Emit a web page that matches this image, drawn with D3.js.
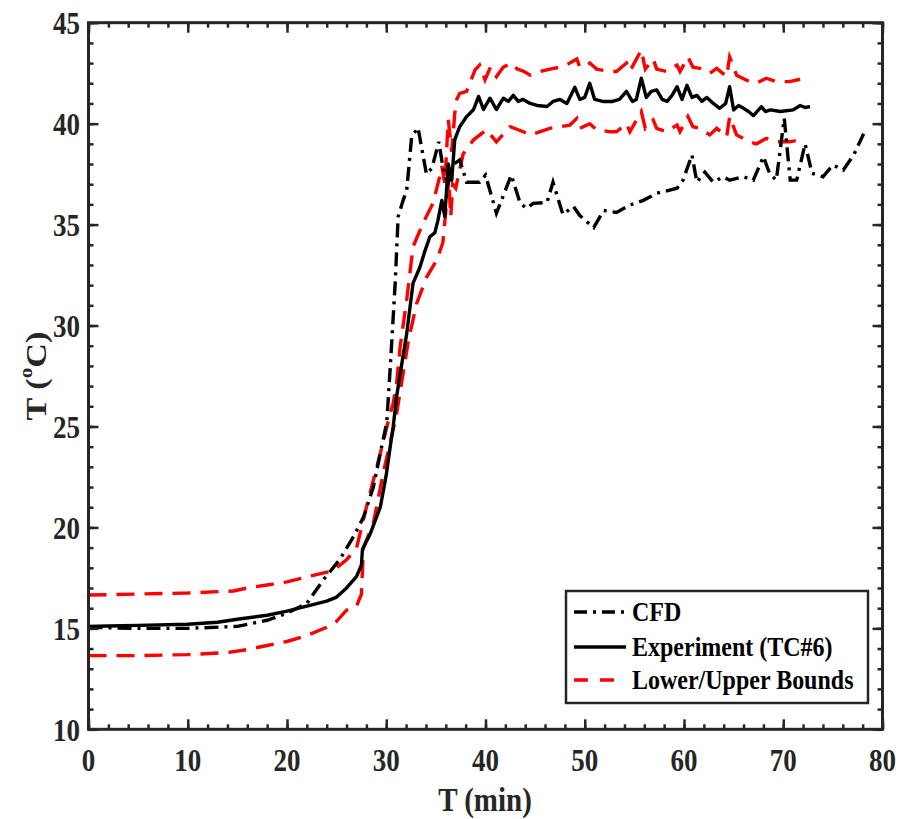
<!DOCTYPE html>
<html><head><meta charset="utf-8">
<script src="https://cdn.jsdelivr.net/npm/d3@7"></script>
<style>
body{margin:0;background:#fff;}
text{font-family:"Liberation Serif","Times New Roman",serif;font-weight:bold;fill:#262626;}
</style></head>
<body><svg id="chart" width="900" height="819"></svg>
<script>
// ---------- data ----------
const xTicks = [0,10,20,30,40,50,60,70,80];
const yTicks = [10,15,20,25,30,35,40,45];
const legendLabels = ["CFD","Experiment (TC#6)","Lower/Upper Bounds"];

const expT = [0,2,5,10,13,15,18,20,22,24,25,26,27,27.5,27.6,27.8,28.4,29.4,30.0,30.4,30.7,31.05,31.4,32.06,32.7,33.4,33.9,34.4,34.9,35.2,35.4,35.6,35.9,36.25,36.6,36.9,37.4,38.1,38.8,39.3,39.8,40.45,41.1,41.8,42.3,42.8,43.3,43.8,44.5,45.2,46.2,46.8,47.5,48.2,49.0,49.5,50.0,50.5,51.0,51.8,52.8,53.5,54.2,54.8,55.2,55.7,56.2,56.7,57.25,57.8,58.3,58.8,59.3,59.8,60.3,60.8,61.3,61.8,62.3,62.95,63.6,64.2,64.6,65.0,65.5,66.0,66.5,67.0,67.8,68.2,68.7,69.7,71.0,71.7,72.2,72.7];
const expV = [15.1,15.12,15.15,15.2,15.3,15.45,15.65,15.85,16.1,16.35,16.55,17.0,17.56,18.14,18.9,19.1,19.7,21.0,22.6,24.0,25.0,26.5,27.6,29.6,32.1,32.9,33.7,34.4,34.6,35.2,35.7,36.2,35.4,38.0,37.2,39.2,39.85,40.35,40.7,41.35,40.7,41.26,40.7,41.26,41.1,41.4,41.1,41.2,41.0,40.9,40.85,41.1,41.2,41.0,41.8,41.2,41.3,42.0,41.2,41.1,41.1,41.2,41.6,41.1,41.2,42.25,41.3,41.6,41.67,41.2,41.1,41.4,41.83,41.2,41.9,41.3,41.4,41.1,41.3,41.0,40.76,41.0,41.83,40.68,40.9,40.76,40.6,40.4,40.84,40.6,40.68,40.6,40.68,40.9,40.8,40.84];

const upT = [0,5,10,14.6,16,18,20,22,24.6,25,26,27,28,29.4,30.4,30.7,31.05,31.4,32.06,32.7,33.7,34.7,35.4,35.6,35.9,36.25,36.6,36.9,37.1,37.4,38.1,38.95,39.4,39.95,40.5,41.1,41.8,42.6,43.2,43.8,44.5,45.5,46.5,47.5,48.5,49.2,49.5,50.5,51.2,52.5,53.2,54.2,54.55,55.7,56.1,56.9,57.25,58.25,59.3,59.6,60.4,60.9,61.6,62.6,63.3,64.3,64.6,65.3,66.6,67.3,68.3,69.3,70.65,71.7];
const upV = [16.65,16.7,16.75,16.85,17.0,17.15,17.3,17.55,17.85,18.0,18.4,18.97,21.0,23.67,25.65,26.15,27.14,28.95,31.27,33.9,35.06,36.05,37.4,37.9,37.0,40.2,38.6,40.5,41.2,41.5,41.6,42.66,42.9,42.17,42.8,42.33,42.8,43.0,42.7,42.6,42.4,42.58,42.7,42.8,43.0,43.2,42.8,43.0,42.7,42.58,42.58,43.0,42.6,43.65,42.7,43.2,42.7,42.58,42.9,42.58,43.3,42.8,42.74,42.5,42.74,42.33,43.3,42.4,42.08,42.0,42.25,42.08,42.08,42.2];

const loT = [0,5,10,14,16,18,20,22,24,25,26,27,27.5,27.7,28.7,29.7,31.0,32.25,33.07,34.07,35.1,35.7,36.3,36.5,36.7,37.0,37.75,38.8,40.1,41.1,42.5,43.8,44.5,45.5,46.5,47.5,48.5,49.2,49.5,50.5,51.2,52.5,53.2,54.2,54.55,55.7,56.1,56.9,57.25,58.25,59.3,59.6,60.4,60.9,61.6,62.6,63.3,64.3,64.6,65.3,66.6,67.3,68.3,69.3,70.65,71.7];
const loV = [13.65,13.65,13.7,13.8,13.95,14.15,14.35,14.65,15.05,15.35,15.9,16.1,16.7,19.0,20.2,22.7,25.5,29.3,31.1,32.4,33.25,34.1,37.2,35.4,37.0,36.8,38.5,39.2,39.7,39.1,39.85,39.6,39.44,39.6,39.77,39.85,39.93,40.26,39.77,40.0,39.7,39.6,39.6,40.0,39.6,40.6,39.77,40.18,39.77,39.6,39.93,39.6,40.35,39.85,39.77,39.44,39.77,39.35,40.35,39.44,39.1,39.0,39.27,39.1,39.1,39.2];

const cfdT = [0,5,10,15,18,20,21.3,22,23.66,25.3,26.7,27.7,28.7,29.4,30.05,30.4,30.9,31.2,31.7,32.06,32.56,33.2,34.05,34.6,35.3,35.7,36.2,36.8,37.4,38.1,39.4,40.0,41.1,42.6,43.5,44.15,44.8,46.2,46.8,47.8,48.85,49.5,50.9,51.9,53.2,54.55,55.9,57.25,59.3,59.9,60.8,61.3,62.1,62.95,63.96,64.6,65.97,66.98,68.0,68.65,69.3,70.1,70.7,71.35,72.2,72.9,74.0,75.0,76.05,77.1,78.1];
const cfdV = [15.05,15.0,15.0,15.1,15.4,15.75,16.07,16.24,17.4,18.4,19.54,20.5,22.0,23.67,25.2,27.9,32.1,35.4,36.2,36.7,39.35,39.8,37.5,37.8,39.1,37.87,37.0,38.0,38.2,37.1,37.1,37.45,35.56,37.45,36.05,35.8,36.05,36.1,37.1,35.5,35.9,35.45,34.85,35.7,35.6,35.97,36.2,36.55,36.8,37.2,38.45,37.1,37.6,37.1,37.37,37.2,37.37,37.2,38.37,37.5,37.2,40.26,37.2,37.2,39.0,37.54,37.37,37.95,37.7,38.45,39.5];

// ---------- layout ----------
const svg = d3.select("#chart");
const L = 88.5, R = 882.5, T = 22.7, B = 729.3;
const x = d3.scaleLinear().domain([0,80]).range([L,R]);
const y = d3.scaleLinear().domain([10,45]).range([B,T]);
const AX = "#262626";
const SY = 1.18;
const LW = 3.4;

svg.append("rect").attr("width",900).attr("height",819).attr("fill","#fff");
svg.append("defs").append("clipPath").attr("id","clip")
  .append("rect").attr("x",L).attr("y",T).attr("width",R-L).attr("height",B-T);

const plot = svg.append("g").attr("clip-path","url(#clip)");
const line = d3.line().x(d=>x(d[0])).y(d=>y(d[1]));
const zip = (a,b)=>a.map((v,i)=>[v,b[i]]);

plot.append("path").datum(zip(upT,upV)).attr("d",line).attr("fill","none")
  .attr("stroke","#ff0000").attr("stroke-width",LW).attr("stroke-dasharray","18,10");
plot.append("path").datum(zip(loT,loV)).attr("d",line).attr("fill","none")
  .attr("stroke","#ff0000").attr("stroke-width",LW).attr("stroke-dasharray","18,10");
plot.append("path").datum(zip(cfdT,cfdV)).attr("d",line).attr("fill","none")
  .attr("stroke","#000").attr("stroke-width",LW).attr("stroke-dasharray","14,6,3,6");
plot.append("path").datum(zip(expT,expV)).attr("d",line).attr("fill","none")
  .attr("stroke","#000").attr("stroke-width",LW).attr("stroke-linejoin","round");

// ---------- axes ----------
const minorX = d3.range(0,81,2), minorY = d3.range(10,46,1);
function axisG(axis, tr){
  const g = svg.append("g").attr("transform",tr).call(axis);
  g.select(".domain").remove();
  g.selectAll("line").attr("stroke",AX).attr("stroke-width",2.5);
  g.selectAll("text").remove();
  return g;
}
axisG(d3.axisBottom(x).tickValues(minorX).tickSize(-5), `translate(0,${B})`);
axisG(d3.axisBottom(x).tickValues(xTicks).tickSize(-10), `translate(0,${B})`);
axisG(d3.axisTop(x).tickValues(minorX).tickSize(-5), `translate(0,${T})`);
axisG(d3.axisTop(x).tickValues(xTicks).tickSize(-10), `translate(0,${T})`);
axisG(d3.axisLeft(y).tickValues(minorY).tickSize(-5), `translate(${L},0)`);
axisG(d3.axisLeft(y).tickValues(yTicks).tickSize(-10), `translate(${L},0)`);
axisG(d3.axisRight(y).tickValues(minorY).tickSize(-5), `translate(${R},0)`);
axisG(d3.axisRight(y).tickValues(yTicks).tickSize(-10), `translate(${R},0)`);
svg.append("rect").attr("x",L).attr("y",T).attr("width",R-L).attr("height",B-T)
  .attr("fill","none").attr("stroke",AX).attr("stroke-width",3);

function txt(x0,y0,s,size,anchor){
  return svg.append("text").attr("transform",`translate(${x0},${y0}) scale(1,${SY})`)
    .attr("text-anchor",anchor).attr("dominant-baseline","central")
    .attr("font-size",size).text(s);
}
xTicks.forEach(v=>txt(x(v),760,v,27,"middle"));
yTicks.forEach(v=>txt(80,y(v)+1,v,27,"end"));

txt(485,800,"T (min)",29,"middle");
const yt = svg.append("text").attr("transform",`translate(36,376) rotate(-90) scale(${SY},1)`)
  .attr("text-anchor","middle").attr("dominant-baseline","central").attr("font-size",29);
yt.append("tspan").text("T (");
yt.append("tspan").attr("baseline-shift","super").attr("font-size",18).text("o");
yt.append("tspan").text("C)");

// ---------- legend ----------
const lg = svg.append("g");
lg.append("rect").attr("x",566).attr("y",591).attr("width",302).attr("height",112)
  .attr("fill","#fff").attr("stroke",AX).attr("stroke-width",2.5);
const rowsY = [612,647,680];
const styles = [{c:"#000",d:"13,6,3,6"},{c:"#000",d:null},{c:"#ff0000",d:"14,12"}];
legendLabels.forEach((s,i)=>{
  const l = lg.append("line").attr("x1",574).attr("x2",626).attr("y1",rowsY[i]).attr("y2",rowsY[i])
    .attr("stroke",styles[i].c).attr("stroke-width",LW);
  if(styles[i].d) l.attr("stroke-dasharray",styles[i].d);
  txt(632,rowsY[i],s,24,"start").style("fill","#000");
});
</script></body></html>
